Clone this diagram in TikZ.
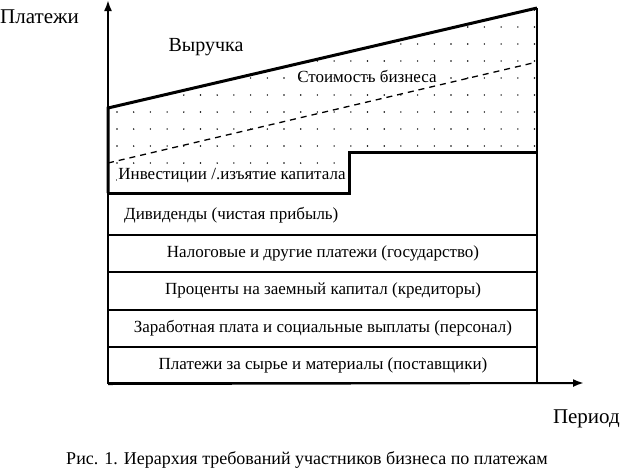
\documentclass[tikz,border=0pt]{standalone}
\usepackage{fontspec}
\setmainfont{Liberation Serif}
\usetikzlibrary{arrows.meta}
\begin{document}
\begin{tikzpicture}[x=1pt,y=-1pt,
  axis/.style={line width=2pt,-{Latex[length=11pt,width=8pt]}},
  thick line/.style={line width=3pt},
  layer/.style={line width=1.6pt},
  lbl/.style={font=\fontsize{17}{19}\selectfont,inner sep=1pt}]
\useasboundingbox (0,0) rectangle (620,472);
% dotted area
\begin{scope}
\clip (108,108) -- (537,8) -- (537,152) -- (349,152) -- (349,193) -- (108,193) -- cycle;
\foreach \i in {0,...,26}{
  \foreach \j in {0,...,11}{
    \fill (117+\i*16.7, 180-\j*17) circle (0.8);
  }
}
\end{scope}
% dashed line
\coordinate (d1) at (108,163);
\coordinate (d2) at (537,62);
\draw[line width=1.3pt,dash pattern=on 6pt off 5pt] (d1) -- (d2);
% layers
\draw[layer] (108,235) -- (537,235);
\draw[layer] (108,272) -- (537,272);
\draw[layer] (108,310) -- (537,310);
\draw[layer] (108,347) -- (537,347);
\draw[layer] (108,383) -- (537,383);
\draw[layer] (537,8) -- (537,383);
% step outline and revenue
\coordinate (r1) at (108,108);
\coordinate (r2) at (537,8);
\draw[thick line] (108,193) -- (349,193) -- (349,152) -- (537,152);
\draw[thick line] (108,193) -- (r1) -- (r2);
% axes
\coordinate (O) at (108,384);
\coordinate (ytop) at (108,0);
\coordinate (xend) at (584,383);
\draw[axis] (O) -- (ytop);
\draw[axis] (O) -- (xend);
% texts
\node[font=\fontsize{21}{23}\selectfont,anchor=west,inner sep=0pt] (pl) at (0,17) {Платежи};
\node[font=\fontsize{21}{23}\selectfont,anchor=east,inner sep=0pt] (per) at (620,419) {Период};
\node[font=\fontsize{20}{22}\selectfont] (rev) at (206,47) {Выручка};
\node[lbl] (val) at (367,76) {Стоимость бизнеса};
\node[lbl,fill=white] (inv) at (232,176) {Инвестиции /.изъятие капитала};
\node[lbl,anchor=west] (div) at (123,215) {Дивиденды (чистая прибыль)};
\node[lbl] (tax) at (323,253) {Налоговые и другие платежи (государство)};
\node[lbl] (int) at (323,290) {Проценты на заемный капитал (кредиторы)};
\node[lbl] (sal) at (323,328) {Заработная плата и социальные выплаты (персонал)};
\node[lbl] (sup) at (323,365) {Платежи за сырье и  материалы (поставщики)};
\node[font=\fontsize{18}{20}\selectfont] (cap) at (307,460) {Рис. 1. Иерархия требований участников бизнеса по платежам};
\end{tikzpicture}
\end{document}
